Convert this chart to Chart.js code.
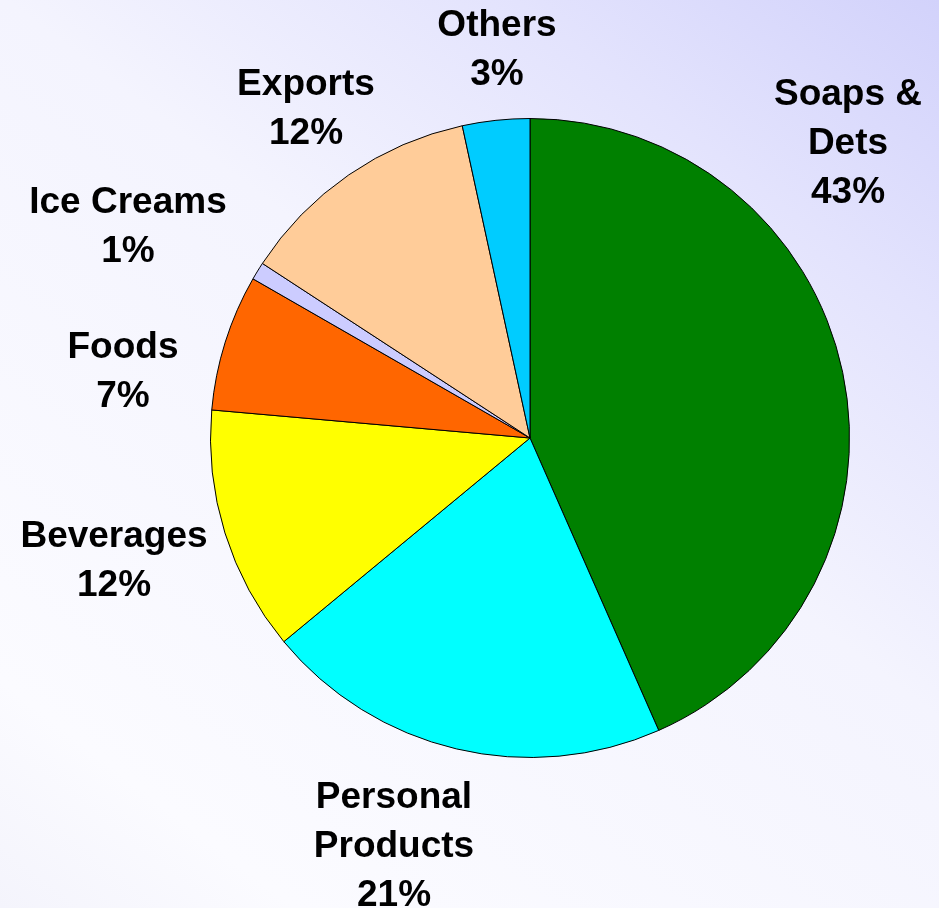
<!DOCTYPE html>
<html>
<head>
<meta charset="utf-8">
<title>Sales by Division</title>
<script src="https://cdn.jsdelivr.net/npm/chart.js@4.4.1/dist/chart.umd.min.js"></script>
<style>
  html, body { margin: 0; padding: 0; background: #fff; }
  #wrap { width: 939px; height: 908px; position: relative; }
</style>
</head>
<body>
<div id="wrap"><canvas id="chart-divisions"></canvas></div>
<script>
// Divisions, clockwise from 12 o'clock
const divisions = [
  ["Soaps &", "Dets"],
  ["Personal", "Products"],
  ["Beverages"],
  ["Foods"],
  ["Ice Creams"],
  ["Exports"],
  ["Others"],
];
const shares = [43.4, 20.6, 12.4, 6.9, 0.9, 12.4, 3.4];
const sliceColors = ["#008000", "#00FFFF", "#FFFF00", "#FF6600", "#CCCCFF", "#FFCC99", "#00CCFF"];

// label block placement: x centre and first baseline, relative to the pie centre
const labelSpots = [
  [318, -333],
  [-136, 370],
  [-416, 109],
  [-407, -80],
  [-402, -225],
  [-224, -343],
  [-33, -402],
];
const LINE_H = 49;
const LABEL_FONT = "bold 37px 'Liberation Sans', Arial, sans-serif";

const backdrop = {
  id: "backdrop",
  beforeDraw(chart) {
    const { ctx, width, height } = chart;
    const g = ctx.createLinearGradient(0, 908, 788, -116);
    g.addColorStop(0, "#f4f4fc");
    g.addColorStop(0.14, "#fbfbff");
    g.addColorStop(0.56, "#f4f4fe");
    g.addColorStop(0.8, "#e3e3fd");
    g.addColorStop(1, "#d2d2fb");
    ctx.save();
    ctx.fillStyle = g;
    ctx.fillRect(0, 0, width, height);
    ctx.restore();
  },
};

const sliceLabels = {
  id: "sliceLabels",
  afterDraw(chart) {
    const { ctx } = chart;
    const arcs = chart.getDatasetMeta(0).data;
    if (!arcs.length) return;
    const cx = arcs[0].x;
    const cy = arcs[0].y;
    const values = chart.data.datasets[0].data;
    const total = values.reduce((a, b) => a + b, 0);
    ctx.save();
    ctx.font = LABEL_FONT;
    ctx.fillStyle = "#000";
    ctx.textAlign = "center";
    ctx.textBaseline = "alphabetic";
    chart.data.labels.forEach((lines, i) => {
      const [dx, dy] = labelSpots[i];
      const pct = Math.round((values[i] / total) * 100) + "%";
      [...lines, pct].forEach((txt, j) => {
        ctx.fillText(txt, cx + dx, cy + dy + j * LINE_H);
      });
    });
    ctx.restore();
  },
};

new Chart(document.getElementById("chart-divisions"), {
  type: "pie",
  data: {
    labels: divisions,
    datasets: [
      {
        data: shares,
        backgroundColor: sliceColors,
        borderColor: "#000",
        borderWidth: 1,
      },
    ],
  },
  options: {
    responsive: true,
    maintainAspectRatio: false,
    animation: false,
    layout: { padding: { left: 210, right: 89, top: 118, bottom: 150 } },
    plugins: {
      legend: { display: false },
      tooltip: { enabled: false },
    },
  },
  plugins: [backdrop, sliceLabels],
});
</script>
</body>
</html>
